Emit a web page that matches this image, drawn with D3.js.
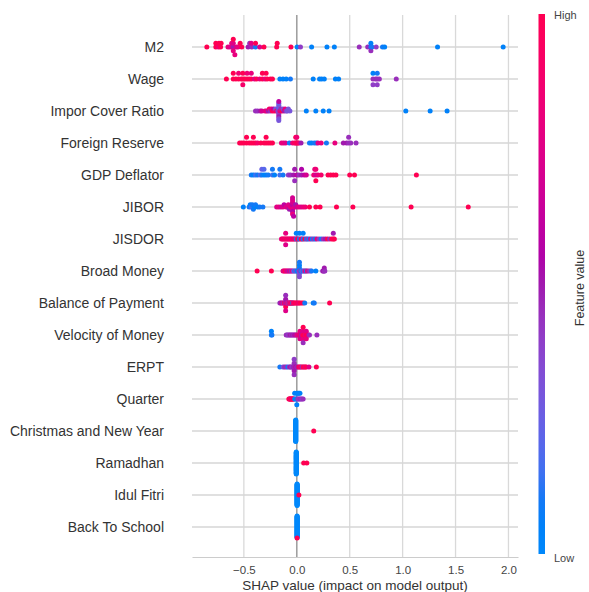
<!DOCTYPE html>
<html>
<head>
<meta charset="utf-8">
<script src="https://cdn.jsdelivr.net/npm/d3@7"></script>
<style>
  body { margin: 0; background: white; }
  text { font-family: "Liberation Sans", Arial, sans-serif; }
</style>
</head>
<body>
<svg></svg>
<script>
// feature names, top to bottom
var features = ["M2", "Wage", "Impor Cover Ratio", "Foreign Reserve", "GDP Deflator", "JIBOR",
  "JISDOR", "Broad Money", "Balance of Payment", "Velocity of Money", "ERPT", "Quarter",
  "Christmas and New Year", "Ramadhan", "Idul Fitri", "Back To School"];

var xTicks = [-0.5, 0.0, 0.5, 1.0, 1.5, 2.0];

// each point: [shap value, feature value 0..1 (low..high), count]
var m2 = [[-0.85,1],[-0.765,1],[-0.765,1],[-0.74,0.85],[-0.735,1],[-0.72,1],[-0.715,1],
  [-0.65,0.8],[-0.63,0.75],[-0.615,0.8],[-0.60,0.5],[-0.60,0.75],[-0.60,0.8],[-0.60,1],[-0.585,0.8],
  [-0.57,0.75],[-0.555,0.8],[-0.535,1],[-0.52,1],[-0.46,0.5],[-0.445,0.45],[-0.425,0.45],[-0.43,0.75],
  [-0.39,0.1],[-0.39,1],[-0.35,0.75],[-0.31,1],[-0.19,1],[-0.185,1],[-0.055,1],[0.003,0.05],[0.035,0.4],
  [0.14,0.05],[0.285,0.05],[0.355,0.05],[0.59,0.45],[0.67,0.45],[0.70,0.1],[0.70,0.05],[0.70,0.45],
  [0.71,0.1],[0.75,0.4],[0.81,0.1],[0.83,0.05],[1.33,0.05],[1.95,0.05]];

var wage = [[-0.665,1],[-0.60,1],[-0.60,1],[-0.575,1],[-0.55,1],[-0.55,0.85],[-0.525,1],[-0.51,1],
  [-0.51,1],[-0.51,0.9],[-0.49,1],[-0.47,1],[-0.47,0.85],[-0.45,1],[-0.43,1],[-0.43,0.8],[-0.40,0.75],
  [-0.38,1],[-0.35,0.8],[-0.325,1],[-0.325,1],[-0.30,0.8],[-0.29,1],[-0.28,1],[-0.25,1],[-0.23,1],
  [-0.16,0.05],[-0.13,0.05],[-0.10,0.05],[-0.06,0.1],[0.155,0.05],[0.215,0.05],[0.235,0.05],[0.26,0.05],
  [0.365,0.05],[0.395,0.05],[0.72,0.45],[0.72,0.05],[0.72,0.4],[0.745,0.45],[0.76,0.45],[0.76,0.1],
  [0.76,0.4],[0.78,0.45],[0.94,0.45]];

var imporCover = [[-0.39,0.45],[-0.37,0.45],[-0.345,0.5],[-0.33,0.7],[-0.30,0.75],[-0.285,0.8],
  [-0.27,0.5],[-0.26,0.9],[-0.25,0.45],[-0.24,0.8],[-0.23,1],[-0.22,0.6],[-0.21,0.9],[-0.20,0.3],
  [-0.19,1],[-0.18,0.4],[-0.17,0.3],[-0.17,0.35],[-0.17,0.2],[-0.17,0.4],[-0.17,0.3],[-0.17,0.5],
  [-0.17,0.25],[-0.17,0.35],[-0.17,0.6],[-0.17,0.3],[-0.16,0.8],[-0.15,0.45],[-0.14,1],[-0.13,0.35],
  [-0.12,0.5],[-0.11,0.8],[-0.10,0.4],[-0.09,0.3],[-0.08,0.3],[-0.065,0.3],[0.09,0.05],[0.18,0.05],
  [0.25,0.05],[0.305,0.05],[1.03,0.05],[1.26,0.05],[1.42,0.05]];

var foreignReserve = [[-0.54,1],[-0.52,1],[-0.50,1],[-0.475,1],[-0.475,1],[-0.45,1],[-0.43,1],
  [-0.41,1],[-0.41,1],[-0.39,1],[-0.37,0.9],[-0.34,1],[-0.31,1],[-0.29,1],[-0.29,1],[-0.27,1],[-0.25,1],
  [-0.23,1],[-0.145,0.8],[-0.125,0.8],[-0.105,0.75],[-0.07,0.1],[-0.04,0.8],[-0.02,1],[-0.01,0.9],
  [-0.01,1],[0.0,1],[0.0,0.85],[0.01,1],[0.02,0.9],[0.04,0.5],[0.12,0.1],[0.14,0.05],[0.165,0.1],
  [0.185,0.1],[0.2,0.75],[0.23,0.8],[0.28,0.1],[0.36,0.8],[0.44,0.5],[0.47,0.5],[0.49,0.45],[0.49,0.45],
  [0.51,0.45],[0.56,0.45]];

var gdpDeflator = [[-0.43,0.1],[-0.41,0.05],[-0.39,0.15],[-0.37,0.1],[-0.345,0.2],[-0.33,0.1],
  [-0.33,0.25],[-0.31,0.05],[-0.31,0.2],[-0.29,0.05],[-0.27,0.1],[-0.23,0.15],[-0.23,0.1],[-0.21,0.05],
  [-0.16,0.15],[-0.16,0.1],[-0.13,0.1],[-0.08,0.4],[-0.06,0.45],[-0.03,0.5],[-0.02,0.5],[-0.02,0.45],
  [0.0,0.6],[0.02,0.45],[0.045,0.5],[0.045,0.55],[0.07,0.6],[0.09,0.7],[0.16,0.85],[0.17,0.8],
  [0.18,0.7],[0.18,0.85],[0.18,1],[0.20,0.8],[0.23,0.9],[0.295,1],[0.32,1],[0.345,1],[0.37,1],
  [0.50,1],[0.545,1],[1.13,1]];

var jibor = [[-0.505,0.05],[-0.45,0.1],[-0.44,0.05],[-0.43,0.15],[-0.42,0.1],[-0.41,0.1],[-0.40,0.05],
  [-0.39,0.1],[-0.37,0.05],[-0.35,0.1],[-0.32,0.1],[-0.19,0.75],[-0.17,0.8],[-0.15,0.7],[-0.13,0.75],
  [-0.12,0.6],[-0.10,0.8],[-0.09,0.7],[-0.08,0.75],[-0.07,0.5],[-0.06,0.8],[-0.05,0.7],[-0.04,0.75],
  [-0.04,0.6],[-0.04,0.8],[-0.04,0.7],[-0.04,0.55],[-0.04,0.75],[-0.04,0.8],[-0.04,0.7],[-0.03,0.6],
  [-0.02,0.75],[-0.01,0.5],[0.0,0.7],[0.02,0.8],[0.04,0.75],[0.06,0.8],[0.08,0.85],[0.12,1],[0.18,1],
  [0.22,1],[0.375,1],[0.53,1],[1.08,1],[1.62,1]];

var jisdor = [[-0.145,0.8],[-0.135,1],[-0.125,0.75],[-0.115,1],[-0.105,0.8],[-0.105,0.8],[-0.105,0.75],
  [-0.095,1],[-0.085,0.8],[-0.075,1],[-0.065,0.75],[-0.055,1],[-0.045,0.8],[-0.035,1],[-0.025,0.7],
  [-0.015,1],[-0.005,0.1],[-0.005,0.05],[0.005,0.8],[0.015,1],[0.025,0.1],[0.025,0.05],[0.04,1],
  [0.05,0.8],[0.06,0.1],[0.06,0.05],[0.075,1],[0.09,0.05],[0.10,0.45],[0.115,0.1],[0.13,0.75],
  [0.145,0.1],[0.16,0.45],[0.175,0.05],[0.19,0.8],[0.21,0.4],[0.23,0.1],[0.25,0.45],[0.27,0.5],
  [0.29,1],[0.31,0.45],[0.33,1],[0.345,1],[0.345,0.5],[0.355,1]];

var broadMoney = [[-0.375,1],[-0.24,1],[-0.13,0.8],[-0.12,0.75],[-0.11,1],[-0.10,0.8],[-0.09,0.7],
  [-0.08,0.75],[-0.07,0.5],[-0.06,0.75],[-0.05,0.45],[-0.04,0.8],[-0.03,0.3],[-0.02,0.1],[-0.01,0.4],
  [0.0,0.1],[0.01,0.05],[0.02,0.4],[0.025,0.1],[0.025,0.3],[0.025,0.05],[0.025,0.35],[0.025,0.1],
  [0.03,0.45],[0.04,0.05],[0.05,0.3],[0.06,0.1],[0.07,0.4],[0.08,0.75],[0.09,0.1],[0.10,0.8],
  [0.115,0.45],[0.13,0.4],[0.14,0.1],[0.18,0.05],[0.245,0.45],[0.25,0.5],[0.26,0.45],[0.26,0.5],
  [0.265,0.45]];

var balancePayment = [[-0.16,0.45],[-0.15,0.5],[-0.14,0.75],[-0.13,0.45],[-0.12,0.8],[-0.115,1],
  [-0.11,0.45],[-0.105,0.8],[-0.105,0.5],[-0.105,1],[-0.105,0.45],[-0.105,0.75],[-0.10,0.5],
  [-0.095,0.8],[-0.09,0.45],[-0.085,1],[-0.08,0.4],[-0.075,0.75],[-0.07,1],[-0.065,0.45],[-0.06,0.8],
  [-0.055,1],[-0.05,0.8],[-0.045,1],[-0.04,0.1],[-0.035,1],[-0.03,0.8],[-0.02,1],[-0.01,1],[0.0,0.9],
  [0.01,1],[0.02,0.8],[0.03,1],[0.045,1],[0.06,1],[0.075,0.1],[0.155,0.05],[0.165,0.1],[0.31,1]];

var velocity = [[-0.24,0.1],[-0.24,0.05],[-0.235,0.1],[-0.10,0.45],[-0.09,0.45],[-0.08,0.4],
  [-0.07,0.45],[-0.06,0.5],[-0.05,0.45],[-0.04,0.5],[-0.03,0.45],[-0.02,0.6],[-0.01,0.5],[0.0,0.75],
  [0.01,0.8],[0.02,0.7],[0.03,1],[0.03,0.8],[0.03,0.75],[0.04,0.5],[0.05,0.8],[0.06,1],[0.06,0.75],
  [0.06,0.8],[0.06,1],[0.06,0.45],[0.07,1],[0.08,0.8],[0.09,1],[0.09,0.75],[0.09,0.8],[0.10,1],
  [0.11,0.75],[0.12,0.45],[0.19,0.45]];

var erpt = [[-0.16,0.1],[-0.13,0.3],[-0.115,0.45],[-0.10,0.45],[-0.085,0.1],[-0.07,0.45],[-0.06,0.5],
  [-0.05,0.45],[-0.04,0.35],[-0.035,0.45],[-0.03,0.5],[-0.025,0.4],[-0.025,0.45],[-0.025,0.5],
  [-0.025,0.4],[-0.025,0.45],[-0.02,0.5],[-0.015,0.45],[-0.01,0.6],[0.0,0.45],[0.01,0.5],[0.02,1],
  [0.03,0.8],[0.04,1],[0.05,0.45],[0.06,1],[0.07,1],[0.08,0.8],[0.09,1],[0.115,0.75],[0.185,1]];

var quarter = [[-0.075,1],[-0.07,1],[-0.065,1],[-0.06,0.75],[-0.055,1],[-0.05,1],[-0.045,1],
  [-0.04,0.75],[-0.035,1],[-0.03,1],[-0.02,0.05],[-0.02,0.05],[-0.01,0.05],[0.0,0.05],[0.0,0.05],
  [0.0,0.05],[0.01,0.45],[0.01,0.05],[0.02,0.4],[0.02,0.05],[0.03,0.45],[0.03,0.05],[0.04,0.45],
  [0.05,0.4],[0.06,0.45]];

var christmas = [[-0.01,0,44],[0.16,1]];
var ramadhan = [[-0.005,0,43],[0.065,1],[0.095,1]];
var idulFitri = [[0.003,0,44],[0.02,1]];
var backToSchool = [[0.003,0,44],[0.003,1]];

var series = [m2, wage, imporCover, foreignReserve, gdpDeflator, jibor, jisdor, broadMoney,
  balancePayment, velocity, erpt, quarter, christmas, ramadhan, idulFitri, backToSchool];

var svgWidth = 589, svgHeight = 592;

var svg = d3.select('svg')
    .attr('width', svgWidth)
    .attr('height', svgHeight);

var xScale = d3.scaleLinear()
    .domain([-0.99, 2.09])
    .range([192, 518]);

// row 0 is the bottom feature, like shap does it
var yScale = d3.scaleLinear()
    .domain([-1, features.length])
    .range([559, 15]);

// shap red_blue colormap, interpolated in LCh
function shapColor(t) {
    var l = t < 0.5 ? 54 - 28 * t : 40 + 28 * (t - 0.5);
    var c = 70 + 20 * t;
    var h = 266.93 + (380.32 - 266.93) * t;
    return d3.hcl(h, c, l).formatHex();
}

// grid
svg.append("g").selectAll("line.vg")
    .data(xTicks.filter(function(d) { return d !== 0; }))
    .enter().append("line")
    .attr("x1", function(d) { return xScale(d); })
    .attr("x2", function(d) { return xScale(d); })
    .attr("y1", 15)
    .attr("y2", 557)
    .style("stroke", "#d9d9d9")
    .style("stroke-width", 1.3);

svg.append("g").selectAll("line")
    .data(features)
    .enter().append("line")
    .attr("x1", 192)
    .attr("x2", 518)
    .attr("y1", function(d, i) { return yScale(features.length - 1 - i); })
    .attr("y2", function(d, i) { return yScale(features.length - 1 - i); })
    .style("stroke", "#d6d6d6")
    .style("stroke-width", 1.4);

svg.append("line")
    .attr("x1", xScale(0))
    .attr("x2", xScale(0))
    .attr("y1", 15)
    .attr("y2", 557)
    .style("stroke", "#a0a0a0")
    .style("stroke-width", 1.6);

// x axis
var x_axis = d3.axisBottom(xScale)
    .tickValues(xTicks)
    .tickSize(0)
    .tickPadding(9)
    .tickFormat(d3.format(".1f"));

var gx = svg.append("g")
    .attr("transform", "translate(0, 557)")
    .call(x_axis);
gx.select(".domain").style("stroke", "#cccccc").style("stroke-width", 1.2);
gx.selectAll("text").style("font-size", "11.5px").style("fill", "#444")
    .style("font-family", "'Liberation Sans', Arial, sans-serif");

svg.append("text")
    .attr("x", 355)
    .attr("y", 590)
    .attr("text-anchor", "middle")
    .style("font-size", "13.5px")
    .style("fill", "#333")
    .text("SHAP value (impact on model output)");

// feature labels
svg.append("g").selectAll("text")
    .data(features)
    .enter().append("text")
    .attr("x", 164)
    .attr("y", function(d, i) { return yScale(features.length - 1 - i); })
    .attr("dy", "0.35em")
    .attr("text-anchor", "end")
    .style("font-size", "14px")
    .style("fill", "#333")
    .text(function(d) { return d; });

// beeswarm offsets, same binning as shap summary_plot
function swarm(raw) {
    var pts = [];
    raw.forEach(function(d) {
        var n = d[2] || 1;
        for (var k = 0; k < n; k++) pts.push({ v: d[0], f: d[1] });
    });
    var mn = d3.min(pts, function(p) { return p.v; });
    var mx = d3.max(pts, function(p) { return p.v; });
    pts.forEach(function(p, i) {
        p.q = Math.round(100 * (p.v - mn) / (mx - mn + 1e-8));
        p.i = i;
    });
    var order = pts.slice().sort(function(a, b) { return a.q - b.q || a.i - b.i; });
    var layer = 0, last = -1;
    order.forEach(function(p) {
        if (p.q !== last) layer = 0;
        p.y = Math.ceil(layer / 2) * ((layer % 2) * 2 - 1);
        layer++;
        last = p.q;
    });
    var m = d3.max(pts, function(p) { return p.y + 1; });
    pts.forEach(function(p) { p.y *= 0.9 * (0.4 / m); });
    return pts;
}

series.forEach(function(s, i) {
    var pos = features.length - 1 - i;
    svg.append("g").selectAll("circle")
        .data(swarm(s))
        .enter().append("circle")
        .attr("cx", function(p) { return xScale(p.v); })
        .attr("cy", function(p) { return yScale(pos + p.y); })
        .attr("r", 2.5)
        .style("fill", function(p) { return shapColor(p.f); });
});

// colour bar
var grad = svg.append("defs").append("linearGradient")
    .attr("id", "cbar")
    .attr("x1", "0").attr("y1", "1").attr("x2", "0").attr("y2", "0");
d3.range(0, 1.0001, 0.05).forEach(function(t) {
    grad.append("stop").attr("offset", t).attr("stop-color", shapColor(t));
});

svg.append("rect")
    .attr("x", 538.5)
    .attr("y", 14)
    .attr("width", 6.5)
    .attr("height", 540)
    .attr("fill", "url(#cbar)");

svg.append("text").attr("x", 554).attr("y", 19)
    .style("font-size", "11px").style("fill", "#444").text("High");
svg.append("text").attr("x", 554).attr("y", 562)
    .style("font-size", "11px").style("fill", "#444").text("Low");

svg.append("text")
    .attr("transform", "translate(584, 288) rotate(-90)")
    .attr("text-anchor", "middle")
    .style("font-size", "12.5px")
    .style("fill", "#333")
    .text("Feature value");
</script>
</body>
</html>
